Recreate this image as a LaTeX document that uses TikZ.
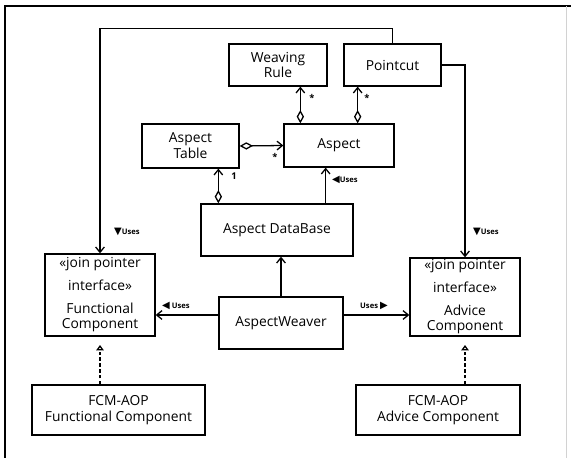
\documentclass[tikz,border=0pt]{standalone}
\usepackage{fontspec}
\setmainfont{Open Sans}
\newfontfamily\symfont{DejaVu Sans}
\usepackage{tikz}
\usetikzlibrary{
  arrows.meta,
  positioning,
  calc
}

\newcommand{\usesmark}[1]{{\symfont\fontsize{8.5}{8.5}\selectfont #1}}

\begin{document}
\begin{tikzpicture}[
  x=0.03cm, y=-0.03cm,
  cls/.style={rectangle, draw, line width=1.1pt, align=center, inner sep=1pt, font=\fontsize{11.8}{13.5}\selectfont},
  pipe/.style={draw, -{Straight Barb[length=1.6mm, width=2.6mm]}, line width=1.1pt},
  agg/.style={draw, {Diamond[open, length=4mm, width=2.2mm]}-{Straight Barb[length=1.6mm, width=2.6mm]}, line width=1.1pt},
  realize/.style={draw, dash pattern=on 3pt off 2pt, -{Triangle[open, length=1.6mm, width=2.2mm]}, line width=1.1pt, shorten >=0.25cm},
  uses/.style={font=\fontsize{6.5}{7}\selectfont\bfseries, inner sep=0pt},
  mult/.style={font=\fontsize{8}{9}\selectfont\bfseries, inner sep=0pt},
  frame/.style={line width=1.1pt},
]
\useasboundingbox (0,0) rectangle (571,458);
\draw[frame] (5,470) -- (5,6) -- (580,6);
\draw[gray!35] (566,6) -- (566,470);

% classes
\node[cls, minimum width=2.94cm, minimum height=1.26cm] (rule) at (278,65) {Weaving\\Rule};
\node[cls, minimum width=2.91cm, minimum height=1.26cm] (pointcut) at (392.5,65) {Pointcut};
\node[cls, minimum width=2.91cm, minimum height=1.32cm] (table) at (190.5,146) {Aspect\\Table};
\node[cls, minimum width=3.3cm, minimum height=1.29cm] (aspect) at (339,145.5) {Aspect};
\node[cls, minimum width=4.56cm, minimum height=1.56cm] (db) at (277,230) {Aspect DataBase};
\node[cls, minimum width=3.72cm, minimum height=1.56cm] (weaver) at (281,323) {AspectWeaver};
\node[cls, minimum width=3.3cm, minimum height=2.46cm] (func) at (100,295)
  {«join pointer\\[6pt]interface»\\[5.5pt]Functional\\Component};
\node[cls, minimum width=3.3cm, minimum height=2.34cm] (advice) at (465,297)
  {«join pointer\\[6pt]interface»\\[5.5pt]Advice\\Component};
\node[cls, minimum width=5.19cm, minimum height=1.5cm] (fcmfunc) at (118.5,410) {FCM-AOP\\Functional Component};
\node[cls, minimum width=4.92cm, minimum height=1.5cm] (fcmadv) at (438,410) {FCM-AOP\\Advice Component};

% aggregations
\draw[agg] ([xshift=0.51cm]aspect.north west) -- ([xshift=0.51cm]aspect.north west |- rule.south);
\draw[agg] ([xshift=-1.11cm]aspect.north east) -- ([xshift=-1.11cm]aspect.north east |- pointcut.south);
\draw[agg] (table.east) -- (aspect.west);
\draw[agg] ([xshift=0.54cm]db.north west) -- ([xshift=0.54cm]db.north west |- table.south);

% uses
\draw[pipe] ([xshift=-0.84cm]db.north east) -- ([xshift=-0.84cm]db.north east |- aspect.south);
\draw[pipe] (weaver.north) -- (weaver.north |- db.south);
\draw[pipe] ([yshift=0.24cm]weaver.west) -- ([yshift=0.24cm]weaver.west -| func.east);
\draw[pipe] ([yshift=0.24cm]weaver.east) -- ([yshift=0.24cm]weaver.east -| advice.west);
\draw[pipe] (pointcut.north) -- ++(0,-15) -| (func.north);
\draw[pipe] (pointcut.east) -| (advice.north);

% realizations
\draw[realize] (fcmfunc.north -| func.south) -- (func.south);
\draw[realize] (fcmadv.north -| advice.south) -- (advice.south);

% multiplicities
\node[mult] (m1) at (312,98) {*};
\node[mult] (m2) at (367,98) {*};
\node[mult] (m3) at (275,157) {*};
\node[mult] (m4) at (234,176) {1};

% labels
\node[uses, anchor=west] (u1) at (332,180) {\usesmark{◀}Uses};
\node[uses, anchor=west] (u2) at (114,232) {\usesmark{▼}Uses};
\node[uses, anchor=west] (u3) at (473,232) {\usesmark{▼}Uses};
\node[uses, anchor=west] (u4) at (162,306) {\usesmark{◀} Uses};
\node[uses, anchor=west] (u5) at (360,306) {Uses \usesmark{▶}};
\end{tikzpicture}
\end{document}
